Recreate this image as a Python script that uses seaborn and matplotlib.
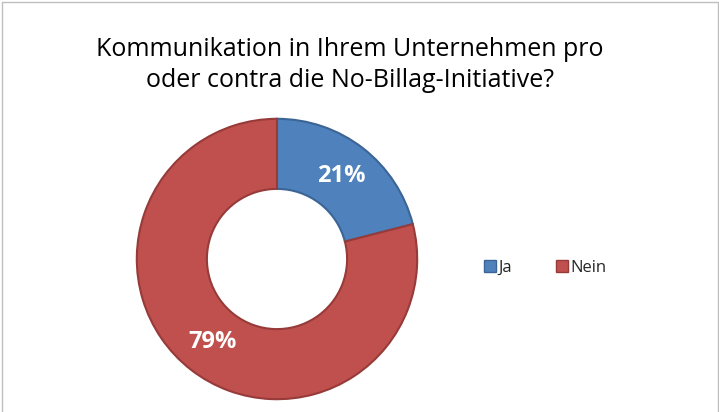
import matplotlib
matplotlib.use("Agg")
import matplotlib.pyplot as plt
from matplotlib.lines import Line2D
import seaborn as sns

categories = ["Ja", "Nein"]
values = [21, 79]
labels = ["21%", "79%"]
colors = ["#4F81BD", "#C0504D"]
edge_colors = ["#3A6596", "#963B39"]
title = "Kommunikation in Ihrem Unternehmen pro\noder contra die No-Billag-Initiative?"

sns.set_theme(style="white")
plt.rcParams['font.family'] = ['Open Sans', 'DejaVu Sans']

W, H = 719, 412
fig = plt.figure(figsize=(W / 100, H / 100), dpi=100)
fig.patch.set_facecolor("white")

cx, cy, r = 277, 259, 143
ax = fig.add_axes([(cx - r) / W, (H - cy - r) / H, 2 * r / W, 2 * r / H])
wedges, texts, autotexts = ax.pie(
    values, colors=colors, startangle=90, counterclock=False,
    labels=None, autopct=lambda p: f"{p:.0f}%", pctdistance=0.75,
    wedgeprops=dict(width=0.5, linewidth=1.5),
    textprops=dict(color="white", fontsize=17, fontweight="bold"),
)
for w, ec in zip(wedges, edge_colors):
    w.set_edgecolor(ec)
for t, lab in zip(autotexts, labels):
    t.set_text(lab)
ax.set_xlim(-1.02, 1.02)
ax.set_ylim(-1.02, 1.02)
ax.set_aspect("equal")
ax.axis("off")

fig.text(350 / W, 1 - 65 / H, title, ha="center", va="center",
         fontsize=18, color="#000000", linespacing=1.3)

handles = [Line2D([0], [0], marker="s", linestyle="", markersize=8,
                  markerfacecolor=c, markeredgecolor=e)
           for c, e in zip(colors, edge_colors)]
fig.legend(handles, categories, loc="center left",
           bbox_to_anchor=(468 / W, 1 - 268 / H), ncol=2, frameon=False,
           fontsize=12, handletextpad=0.1, columnspacing=2.6,
           handlelength=0.8)

# chart border
for xs, ys in [([1.5 / W, 1.5 / W], [0, 1 - 1.5 / H]),
               ([1.5 / W, 1 - 1.5 / W], [1 - 1.5 / H, 1 - 1.5 / H]),
               ([1 - 1.5 / W, 1 - 1.5 / W], [0, 1 - 1.5 / H])]:
    fig.add_artist(Line2D(xs, ys, color="#BFBFBF", linewidth=1,
                          transform=fig.transFigure))

fig.savefig("out.png", dpi=100)
